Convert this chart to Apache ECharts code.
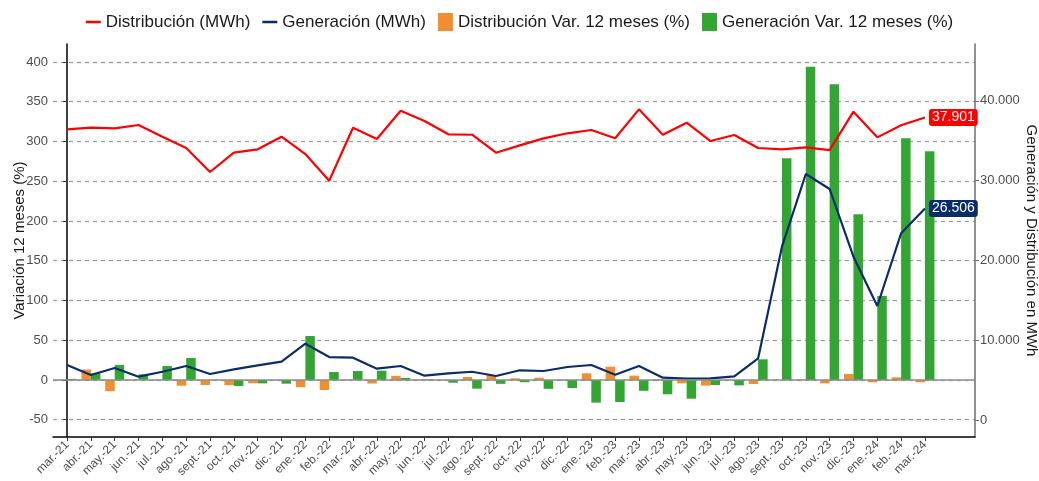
<!DOCTYPE html>
<html>
<head>
<meta charset="utf-8">
<script src="https://cdn.jsdelivr.net/npm/echarts@6/dist/echarts.min.js"></script>
<style>
html,body{margin:0;padding:0;background:#fff;}
#chart{width:1039px;height:481px;}
</style>
</head>
<body>
<div id="chart"></div>
<script>
const categories = ['mar.-21','abr.-21','may.-21','jun.-21','jul.-21','ago.-21','sept.-21','oct.-21','nov.-21','dic.-21',
  'ene.-22','feb.-22','mar.-22','abr.-22','may.-22','jun.-22','jul.-22','ago.-22','sept.-22','oct.-22','nov.-22','dic.-22',
  'ene.-23','feb.-23','mar.-23','abr.-23','may.-23','jun.-23','jul.-23','ago.-23','sept.-23','oct.-23','nov.-23','dic.-23',
  'ene.-24','feb.-24','mar.-24'];
const distribucionMWh = [36430,36630,36550,36970,35500,34090,31080,33500,33920,35500,
  33330,29990,36630,35210,38760,37470,35800,35750,33500,34420,35300,35930,
  36340,35300,38930,35750,37260,34960,35710,34090,33920,34170,33830,38640,
  35420,36930,37901];
const generacionMWh = [6890,5640,6520,5430,6050,6770,5760,6350,6850,7310,
  9560,7890,7810,6430,6770,5550,5850,6050,5510,6230,6140,6640,
  6890,5680,6770,5300,5180,5220,5470,7730,21720,30830,28950,20470,
  14290,23400,26506];
const distribucionVar = [0.3,13.2,-14,0.3,0.4,-7.2,-6.3,-6.5,-4.1,-0.5,
  -9,-12.6,0.5,-4.4,5.2,0.5,0.3,3.8,6.3,2.1,2.9,0.3,
  8.4,16.8,5.5,1,-4.2,-7.1,0.3,-5,0.3,0.5,-4.2,7.5,
  -2.9,3.4,-2.9];
const generacionVar = [1.4,8.4,18.9,7.1,17.6,27.7,0.2,-7.5,-4.2,-4.6,
  55.3,10,11.3,11.7,2.6,0.8,-3.4,-10.9,-4.8,-2.8,-11.1,-10.1,
  -28.5,-27.7,-13.6,-18,-23.5,-6.3,-6.8,26,279,394,372,208.4,
  105.7,304,287.7];
const leftTicks = [-50,0,50,100,150,200,250,300,350,400];
const rightTicks = [0,10000,20000,30000,40000];

const FONT = '"Liberation Sans", Arial, sans-serif';
const C_RED = '#FF0000', C_NAVY = '#0B2C6B', C_ORANGE = '#F18F2E', C_GREEN = '#33A532';
const fmtES = v => Math.round(v).toString().replace(/\B(?=(\d{3})+(?!\d))/g, '.');
const pairs = arr => arr.map((v, i) => [i, v]);
const idx = categories.map((_, i) => i);
const LINE_ICON = 'path://M0,0L0.01,0L0,0.01Z M0,7.8L15,7.8L15,10.2L0,10.2Z M15,18L14.99,18L15,17.99Z';

const chart = echarts.init(document.getElementById('chart'), null, {renderer: 'canvas'});
chart.setOption({
  animation: false,
  textStyle: {fontFamily: FONT},
  legend: {
    top: 8, left: 'center', itemGap: 12, itemWidth: 15, itemHeight: 18,
    textStyle: {fontSize: 17, color: '#1a1a1a', fontFamily: FONT},
    data: [
      {name: 'Distribución (MWh)', icon: LINE_ICON},
      {name: 'Generación (MWh)', icon: LINE_ICON},
      {name: 'Distribución Var. 12 meses (%)', icon: 'rect'},
      {name: 'Generación Var. 12 meses (%)', icon: 'rect'}
    ]
  },
  grid: {left: 53, right: 64, top: 44, bottom: 44, containLabel: false, outerBoundsMode: 'none'},
  xAxis: {
    type: 'value', min: -0.59, max: 38.1, minInterval: 1, maxInterval: 1,
    axisLine: {show: true, onZero: false, lineStyle: {color: '#000', width: 1.5}},
    axisTick: {show: true, length: 4, customValues: idx, lineStyle: {color: '#333'}},
    axisLabel: {
      customValues: idx, rotate: 45, fontSize: 12, color: '#4d4d4d', margin: 6,
      fontFamily: FONT,
      formatter: v => categories[Math.round(v)] || ''
    },
    splitLine: {show: false}
  },
  yAxis: [
    {
      type: 'value', position: 'left', min: -71.7, max: 422.6, minInterval: 50, maxInterval: 50,
      name: 'Variación 12 meses (%)', nameLocation: 'middle', nameRotate: 90, nameGap: 26,
      nameMoveOverlap: false,
      nameTextStyle: {fontSize: 15, color: '#1a1a1a', fontFamily: FONT},
      axisLine: {show: true, lineStyle: {color: '#000', width: 1.5}},
      axisTick: {show: true, length: 4, customValues: leftTicks, lineStyle: {color: '#333'}},
      axisLabel: {customValues: leftTicks, fontSize: 13, color: '#4d4d4d', margin: 5, fontFamily: FONT},
      splitLine: {show: true, lineStyle: {type: [4, 4], color: '#9a9a9a', width: 1.2}}
    },
    {
      type: 'value', position: 'right', min: -2130, max: 47120, minInterval: 10000, maxInterval: 10000,
      name: 'Generación y Distribución en MWh', nameLocation: 'middle', nameRotate: -90, nameGap: 49,
      nameMoveOverlap: false,
      nameTextStyle: {fontSize: 15, color: '#1a1a1a', fontFamily: FONT},
      axisLine: {show: true, lineStyle: {color: '#6e6e6e', width: 1.5}},
      axisTick: {show: true, length: 4, customValues: rightTicks, lineStyle: {color: '#6e6e6e'}},
      axisLabel: {customValues: rightTicks, fontSize: 13, color: '#4d4d4d', margin: 5, fontFamily: FONT,
        formatter: v => fmtES(v)},
      splitLine: {show: false}
    }
  ],
  series: [
    {
      name: 'Distribución Var. 12 meses (%)', type: 'bar', yAxisIndex: 0,
      data: pairs(distribucionVar), barWidth: 9.5, barGap: '0%',
      itemStyle: {color: C_ORANGE},
      markLine: {
        silent: true, symbol: 'none', label: {show: false},
        lineStyle: {type: 'solid', color: '#8c8c8c', width: 1.6},
        data: [{yAxis: 0}]
      }
    },
    {
      name: 'Generación Var. 12 meses (%)', type: 'bar', yAxisIndex: 0,
      data: pairs(generacionVar), barWidth: 9.5, barGap: '0%',
      itemStyle: {color: C_GREEN}
    },
    {
      name: 'Distribución (MWh)', type: 'line', yAxisIndex: 1,
      data: pairs(distribucionMWh), symbol: 'none', showSymbol: false,
      lineStyle: {color: C_RED, width: 2.2}, itemStyle: {color: C_RED},
      endLabel: {show: true, formatter: p => fmtES(p.value[1]), color: '#fff', backgroundColor: C_RED,
        padding: [2, 3, 1, 3], borderRadius: 3, fontSize: 14, distance: 4, fontFamily: FONT}
    },
    {
      name: 'Generación (MWh)', type: 'line', yAxisIndex: 1,
      data: pairs(generacionMWh), symbol: 'none', showSymbol: false,
      lineStyle: {color: C_NAVY, width: 2.2}, itemStyle: {color: C_NAVY},
      endLabel: {show: true, formatter: p => fmtES(p.value[1]), color: '#fff', backgroundColor: C_NAVY,
        padding: [2, 3, 1, 3], borderRadius: 3, fontSize: 14, distance: 4, fontFamily: FONT}
    }
  ]
});
</script>
</body>
</html>
